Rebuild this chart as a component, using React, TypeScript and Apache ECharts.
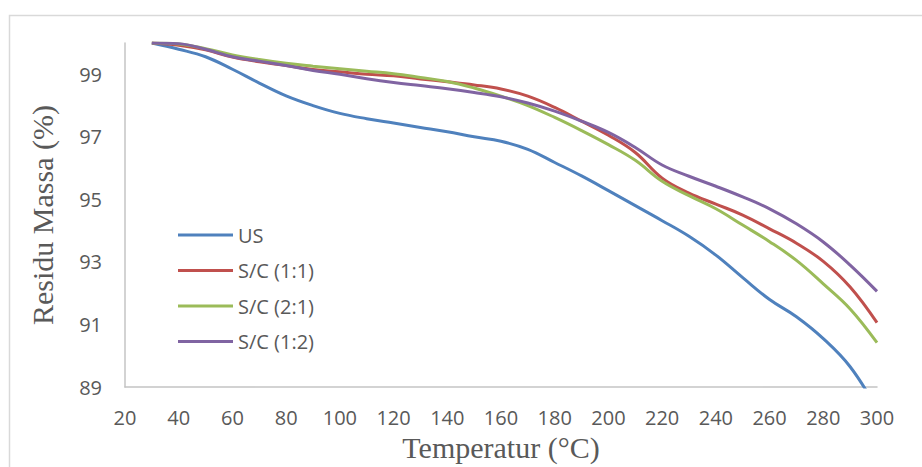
import React, { useEffect, useRef } from "react";
import * as echarts from "echarts";

const temperatures = [30, 40, 50, 60, 70, 80, 90, 100, 110, 120, 130, 140, 150, 160, 170, 180, 190, 200, 210, 220, 230, 240, 250, 260, 270, 280, 290, 300];
const seriesNames = ["US", "S/C (1:1)", "S/C (2:1)", "S/C (1:2)"];
const usValues = [100, 99.8, 99.56, 99.16, 98.72, 98.31, 98.0, 97.75, 97.58, 97.44, 97.3, 97.16, 97.0, 96.86, 96.6, 96.18, 95.75, 95.28, 94.8, 94.32, 93.82, 93.22, 92.5, 91.8, 91.25, 90.55, 89.65, 88.3];
const sc11Values = [100, 99.93, 99.78, 99.55, 99.4, 99.28, 99.15, 99.08, 99.0, 98.95, 98.85, 98.76, 98.66, 98.53, 98.3, 97.94, 97.5, 97.05, 96.5, 95.68, 95.2, 94.85, 94.5, 94.06, 93.6, 93.02, 92.2, 91.06];
const sc21Values = [100, 99.97, 99.82, 99.62, 99.47, 99.35, 99.26, 99.18, 99.1, 99.02, 98.9, 98.77, 98.56, 98.3, 98.0, 97.62, 97.2, 96.75, 96.25, 95.58, 95.12, 94.7, 94.18, 93.65, 93.05, 92.3, 91.5, 90.42];
const sc12Values = [100, 99.98, 99.8, 99.56, 99.42, 99.28, 99.12, 99.0, 98.86, 98.74, 98.64, 98.54, 98.42, 98.28, 98.08, 97.82, 97.5, 97.14, 96.66, 96.1, 95.74, 95.42, 95.08, 94.7, 94.22, 93.64, 92.9, 92.06];
const colors = ["#4F81BD", "#C0504D", "#9BBB59", "#8064A2"];

export default function App() {
  const ref = useRef<HTMLDivElement>(null);
  useEffect(() => {
    if (!ref.current) return;
    const chart = echarts.init(ref.current, undefined, { renderer: "svg" });
    const all = [usValues, sc11Values, sc21Values, sc12Values];
    const labelStyle = { color: "#595959", fontFamily: "Open Sans", fontSize: 20 };
    chart.setOption({
      animation: false,
      backgroundColor: "#ffffff",
      graphic: [
        {
          type: "rect",
          shape: { x: 9.5, y: 15.5, width: 1000, height: 1000 },
          style: { fill: "none", stroke: "#d9d9d9", lineWidth: 1.5 },
          silent: true,
          z: -10,
        },
      ],
      grid: { left: 125, right: 45, top: 43, bottom: 74 },
      legend: {
        orient: "vertical",
        left: 173,
        top: 220,
        icon: "rect",
        itemWidth: 55,
        itemHeight: 3,
        itemGap: 15.5,
        data: seriesNames,
        textStyle: { ...labelStyle, padding: [0, 0, 0, 0] },
      },
      xAxis: {
        type: "value",
        min: 20,
        max: 300,
        interval: 20,
        name: "Temperatur (°C)",
        nameLocation: "middle",
        nameGap: 43,
        nameTextStyle: { color: "#595959", fontFamily: "Liberation Serif", fontSize: 30 },
        axisLine: { show: true, lineStyle: { color: "#c4c4c4", width: 1.5 } },
        axisTick: { show: false },
        splitLine: { show: false },
        axisLabel: { ...labelStyle, margin: 20 },
      },
      yAxis: {
        type: "value",
        min: 89,
        max: 100,
        interval: 2,
        name: "Residu Massa (%)",
        nameLocation: "middle",
        nameGap: 68,
        nameTextStyle: { color: "#595959", fontFamily: "Liberation Serif", fontSize: 30 },
        axisLine: { show: true, lineStyle: { color: "#c4c4c4", width: 1.5 } },
        axisTick: { show: false },
        splitLine: { show: false },
        axisLabel: {
          ...labelStyle,
          margin: 23,
          formatter: (v: number) => (v === 100 ? "" : String(v)),
        },
      },
      series: seriesNames.map((name, i) => ({
        name,
        type: "line",
        data: temperatures.map((t, k) => [t, all[i][k]]),
        smooth: 0.4,
        symbol: "none",
        clip: true,
        lineStyle: { color: colors[i], width: 3 },
        itemStyle: { color: colors[i] },
      })),
    });
    return () => chart.dispose();
  }, []);
  return <div ref={ref} style={{ position: "fixed", left: 0, top: 0, width: 922, height: 467 }} />;
}
